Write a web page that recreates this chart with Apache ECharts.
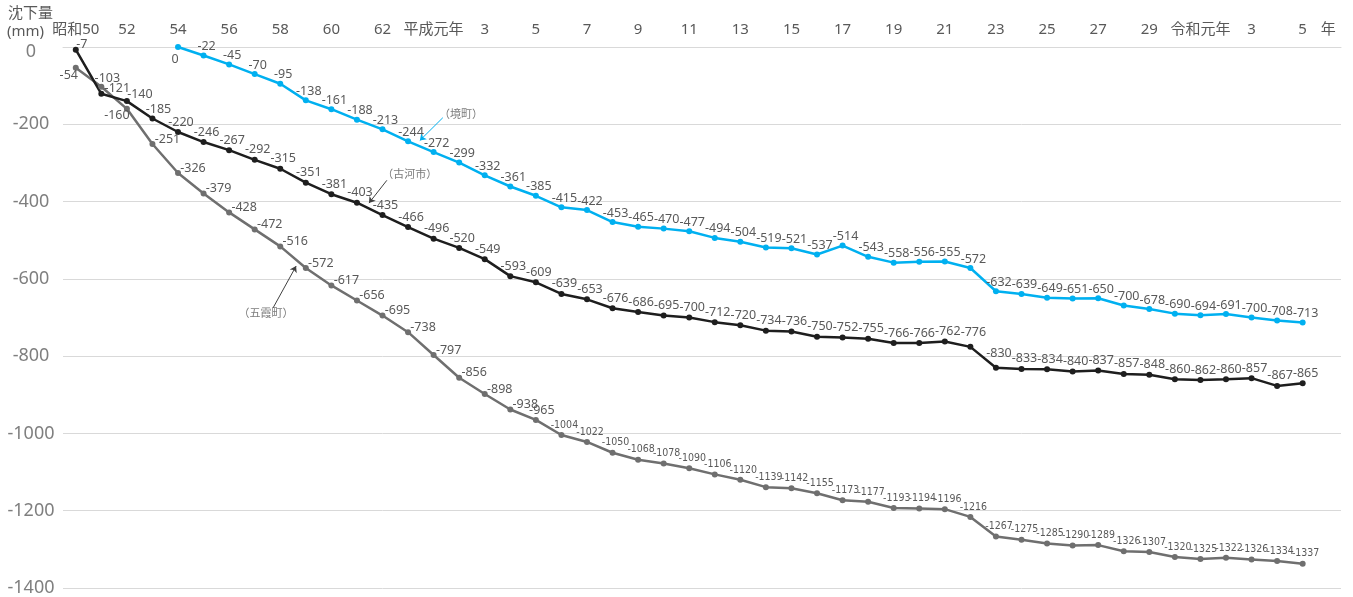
<!DOCTYPE html>
<html><head><meta charset="utf-8">
<script src="https://cdn.jsdelivr.net/npm/echarts@6/dist/echarts.min.js"></script>
<style>html,body{margin:0;padding:0;background:#fff}#c{width:1353px;height:597px}</style>
</head><body><div id="c"></div>
<script>
// x categories: 昭和50 (1975) … 令和5 (2023), plus the axis unit "年"
const categories = ['昭和50','51','52','53','54','55','56','57','58','59','60','61','62','63',
  '平成元年','2','3','4','5','6','7','8','9','10','11','12','13','14','15','16','17','18','19','20',
  '21','22','23','24','25','26','27','28','29','30','令和元年','2','3','4','5','年'];
const yTicks = { min: -1400, max: 0, step: 200 };

// 境町 (1979 - 2023)
const sakaiStart = 4;
const sakaiValues = [0,-22,-45,-70,-95,-138,-161,-188,-213,-244,-272,-299,-332,-361,-385,-415,-422,-453,-465,-470,
  -477,-494,-504,-519,-521,-537,-514,-543,-558,-556,-555,-572,-632,-639,-649,-651,-650,-669,-678,-690,-694,-691,-700,-708,-713];
const sakaiLabels = ['0','-22','-45','-70','-95','-138','-161','-188','-213','-244','-272','-299','-332','-361','-385','-415','-422','-453','-465','-470',
  '-477','-494','-504','-519','-521','-537','-514','-543','-558','-556','-555','-572','-632','-639','-649','-651','-650','-700','-678','-690','-694','-691','-700','-708','-713'];

// 古河市 (1975 - 2023)
const kogaValues = [-7,-121,-140,-185,-220,-246,-267,-292,-315,-351,-381,-403,-435,-466,-496,-520,-549,-593,-609,-639,
  -653,-676,-686,-695,-700,-712,-720,-734,-736,-750,-752,-755,-766,-766,-762,-776,-830,-833,-834,-840,-837,-846,-848,-860,-862,-860,-857,-877,-870];
const kogaLabels = ['-7','-121','-140','-185','-220','-246','-267','-292','-315','-351','-381','-403','-435','-466','-496','-520','-549','-593','-609','-639',
  '-653','-676','-686','-695','-700','-712','-720','-734','-736','-750','-752','-755','-766','-766','-762','-776','-830','-833','-834','-840','-837','-857','-848','-860','-862','-860','-857','-867','-865'];

// 五霞町 (1975 - 2023)
const gokaValues = [-54,-103,-160,-251,-326,-379,-428,-472,-516,-572,-617,-656,-695,-738,-797,-856,-898,-938,-965,-1004,
  -1022,-1050,-1068,-1078,-1090,-1106,-1120,-1139,-1142,-1155,-1173,-1177,-1193,-1194,-1196,-1216,-1267,-1275,-1285,-1290,-1289,-1305,-1307,-1320,-1325,-1322,-1326,-1330,-1337];
const gokaLabels = ['-54','-103','-160','-251','-326','-379','-428','-472','-516','-572','-617','-656','-695','-738','-797','-856','-898','-938','-965','-1004',
  '-1022','-1050','-1068','-1078','-1090','-1106','-1120','-1139','-1142','-1155','-1173','-1177','-1193','-1194','-1196','-1216','-1267','-1275','-1285','-1290','-1289','-1326','-1307','-1320','-1325','-1322','-1326','-1334','-1337'];

// annotations (in data coordinates: category index, mm)
const noteTexts = ['（境町）','（古河市）','（五霞町）'];
const notePos = [[15.07,-172],[13.07,-327],[7.44,-688]];
const arrowFrom = [[14.36,-183],[12.17,-345],[7.72,-675]];
const arrowTo = [[13.46,-242],[11.47,-404],[8.62,-567]];

const C_BLUE = '#00b0f0', C_BLACK = '#1e1e1e', C_GRAY = '#6f6f6f', C_TEXT = '#595959';
const FONT = "'Noto Sans', 'Noto Sans CJK JP', sans-serif";
const NARROW = "'Liberation Sans Narrow', 'DejaVu Sans Condensed', 'Noto Sans', sans-serif";

function sakaiOffset(i){ return i === 0 ? [-3, 12] : [3, -9]; }
function kogaOffset(i){
  if (i === 0) return [6, -5];
  if (i === 1) return [16, -5];
  if (i === 2) return [13, -7];
  if (i === 3) return [6, -9];
  if (i === 35 || i === 36) return [3, -14];
  return [3, -10];
}
function gokaOffset(i){
  if (i === 0) return [-7, 8];
  if (i === 1) return [6, -8];
  if (i === 2) return [-10, 7];
  if (i <= 17) return [15, -5];
  if (i === 18) return [6, -9];
  return [3, -10];
}

function build(values, labels, start, offsetFn){
  const data = [];
  for (let k = 0; k < categories.length; k++) {
    const i = k - start;
    if (i < 0 || i >= values.length) { data.push(null); continue; }
    const long = labels[i].length > 4;
    data.push({
      value: values[i],
      label: {
        offset: offsetFn(i),
        fontFamily: long ? NARROW : FONT,
        fontSize: long ? 10.5 : 12.5
      }
    });
  }
  return data;
}

function lineSeries(name, color, values, labels, start, offsetFn){
  return {
    name, type: 'line', data: build(values, labels, start, offsetFn),
    symbol: 'circle', symbolSize: 6, showAllSymbol: true,
    lineStyle: { color, width: 2.5 }, itemStyle: { color },
    connectNulls: false,
    label: {
      show: true, position: 'inside', color: C_TEXT,
      textBorderWidth: 0,
      formatter: p => labels[p.dataIndex - start]
    },
    emphasis: { disabled: true },
    z: 3
  };
}

const chart = echarts.init(document.getElementById('c'), null, { renderer: 'canvas' });
chart.setOption({
  animation: false,
  textStyle: { fontFamily: FONT },
  grid: { left: 63, right: 12, top: 47, bottom: 6.4, containLabel: false },
  xAxis: [
    {
      type: 'category', data: categories, position: 'top', boundaryGap: true,
      axisLine: { show: true, lineStyle: { color: '#d9d9d9' } },
      axisTick: { show: false },
      axisLabel: {
        interval: (i) => i % 2 === 0 || i === categories.length - 1,
        color: C_TEXT, fontSize: 15, margin: 10, fontFamily: FONT
      },
      splitLine: { show: false }
    },
    { type: 'value', min: -0.5, max: categories.length - 0.5, show: false, position: 'top' }
  ],
  yAxis: {
    type: 'value', min: yTicks.min, max: yTicks.max, interval: yTicks.step,
    axisLine: { show: false }, axisTick: { show: false },
    axisLabel: {
      color: '#7f7f7f', fontSize: 18, align: 'center', margin: 32, fontFamily: FONT,
      formatter: v => v === 0 ? '{z|0}' : String(v),
      rich: { z: { fontSize: 18, color: '#7f7f7f', padding: [10, 0, 0, 0], fontFamily: FONT } }
    },
    splitLine: { show: true, lineStyle: { color: '#d9d9d9', width: 1 } }
  },
  graphic: [
    { type: 'text', left: 8, top: 6, style: { text: '沈下量', fontSize: 15, fill: C_TEXT, fontFamily: FONT } },
    { type: 'text', left: 7, top: 24, style: { text: '(mm)', fontSize: 15, fill: C_TEXT, fontFamily: FONT } }
  ],
  series: [
    lineSeries('五霞町', C_GRAY, gokaValues, gokaLabels, 0, gokaOffset),
    lineSeries('古河市', C_BLACK, kogaValues, kogaLabels, 0, kogaOffset),
    lineSeries('境町', C_BLUE, sakaiValues, sakaiLabels, sakaiStart, sakaiOffset),
    {
      name: 'notes', type: 'scatter', xAxisIndex: 1, symbolSize: 0,
      data: notePos.map((p, i) => [p[0], p[1], noteTexts[i]]),
      label: { show: true, position: 'inside', color: C_TEXT, fontSize: 11,
        fontFamily: "'Noto Sans CJK JP', sans-serif", formatter: p => p.value[2] },
      emphasis: { disabled: true },
      markLine: {
        silent: true, symbol: ['none', 'arrow'], symbolSize: 6, animation: false,
        label: { show: false },
        data: arrowFrom.map((f, i) => [
          { coord: f, lineStyle: { color: i === 0 ? C_BLUE : '#404040', width: 1, type: 'solid' } },
          { coord: arrowTo[i] }
        ])
      }
    }
  ]
});
</script>
</body></html>
